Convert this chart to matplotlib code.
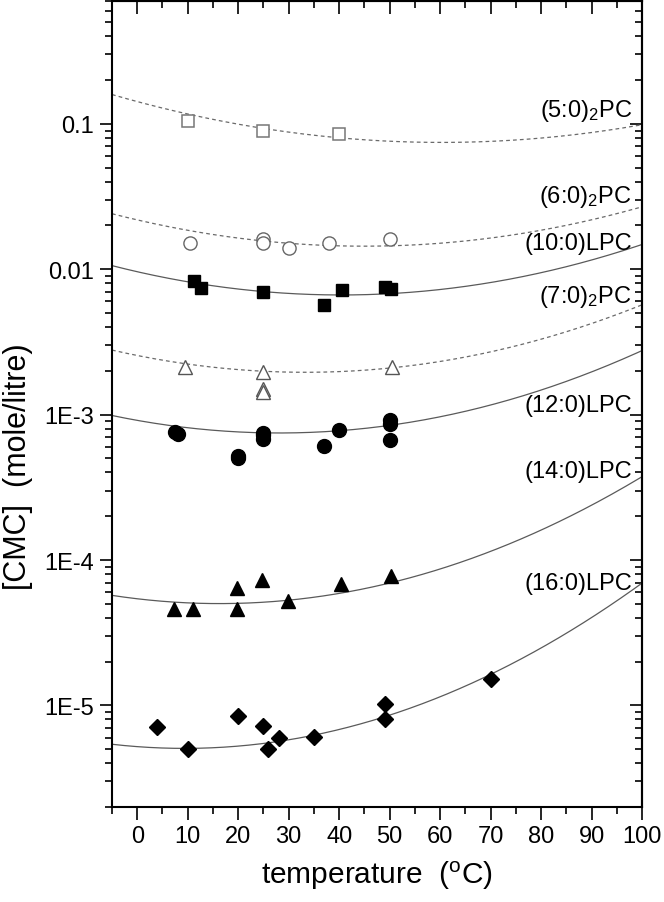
import numpy as np
import matplotlib
matplotlib.use("Agg")
import matplotlib.pyplot as plt
from matplotlib.ticker import FixedLocator, FixedFormatter, LogLocator, MultipleLocator, NullFormatter

plt.rcParams['font.family'] = ['Liberation Sans', 'DejaVu Sans']
plt.rcParams['mathtext.default'] = 'regular'

# measured CMC values (temperature in degC, CMC in mole/litre)
t_5 = [10, 25, 40]
cmc_5 = [0.104, 0.090, 0.085]
t_6 = [10.5, 25, 25, 30, 38, 50]
cmc_6 = [0.0151, 0.0162, 0.0151, 0.0140, 0.0151, 0.0162]
t_7 = [9.5, 25, 25, 25, 50.5]
cmc_7 = [0.00214, 0.00195, 0.00150, 0.00144, 0.00214]
t_10 = [11.3, 12.7, 25, 37, 40.5, 49, 50.2]
cmc_10 = [0.0083, 0.0074, 0.0070, 0.0057, 0.0072, 0.0075, 0.0073]
t_12 = [7.5, 8, 20, 20, 25, 25, 25, 37, 40, 50, 50, 50]
cmc_12 = [0.00076, 0.00074, 0.00052, 0.00050, 0.00075, 0.00072, 0.00068,
          0.00061, 0.00079, 0.00092, 0.00086, 0.00067]
t_14 = [7.2, 11.1, 19.8, 19.8, 24.8, 29.9, 40.4, 50.3]
cmc_14 = [4.6e-5, 4.6e-5, 6.4e-5, 4.6e-5, 7.3e-5, 5.2e-5, 6.8e-5, 7.8e-5]
t_16 = [4, 10, 20, 25, 26, 28, 35, 49, 49, 70]
cmc_16 = [7.1e-6, 5.0e-6, 8.5e-6, 7.2e-6, 5.0e-6, 6.0e-6, 6.1e-6, 1.03e-5, 8.1e-6, 1.53e-5]

# points
curve_t_5 = [-5, 25, 55, 100]
curve_5 = [0.161, 0.090, 0.077, 0.098]
curve_t_6 = [-5, 30, 42, 62, 100]
curve_6 = [0.0243, 0.0146, 0.0146, 0.0156, 0.0267]
curve_t_7 = [-5, 25, 62, 100]
curve_7 = [0.00283, 0.0019, 0.00248, 0.00562]
curve_t_10 = [-5, 20, 42, 100]
curve_10 = [0.0107, 0.0071, 0.0068, 0.01476]
curve_t_12 = [-5, 25, 62, 100]
curve_12 = [0.001, 0.000724, 0.00103, 0.00273]
curve_t_14 = [-5, 16, 50, 70, 100]
curve_14 = [5.97e-5, 4.62e-5, 7.1e-5, 1.19e-4, 3.66e-4]
curve_t_16 = [-5, 16, 35, 49, 70, 100]
curve_16 = [5.63e-6, 4.77e-6, 6.15e-6, 8.67e-6, 1.68e-5, 6.8e-5]

labels = [r'(5:0)$_{2}$PC', r'(6:0)$_{2}$PC', '(10:0)LPC', r'(7:0)$_{2}$PC',
          '(12:0)LPC', '(14:0)LPC', '(16:0)LPC']
label_y = [0.114, 0.0291, 0.0137, 0.00597, 0.00106, 0.000371, 6.3e-5]

fig = plt.figure(figsize=(6.64, 9.03), dpi=100)
ax = fig.add_axes([112 / 664, 1 - 808 / 903, 530 / 664, 806 / 903])
ax.set_yscale('log')
ax.set_xlim(-5, 100)
ax.set_ylim(2e-6, 0.7)

tt = np.linspace(-5, 100, 300)


def smooth(tc, yc):
    # quadratic through the traced curve points (log scale)
    p = np.polyfit(tc, np.log10(yc), 2)
    return 10 ** np.polyval(p, tt)


dash = dict(color='#6a6a6a', lw=0.9, ls=(0, (3, 2.5)))
solid = dict(color='#5a5a5a', lw=0.9, ls='-')
ax.plot(tt, smooth(curve_t_5, curve_5), **dash)
ax.plot(tt, smooth(curve_t_6, curve_6), **dash)
ax.plot(tt, smooth(curve_t_7, curve_7), **dash)
ax.plot(tt, smooth(curve_t_10, curve_10), **solid)
ax.plot(tt, smooth(curve_t_12, curve_12), **solid)
ax.plot(tt, smooth(curve_t_14, curve_14), **solid)
ax.plot(tt, smooth(curve_t_16, curve_16), **solid)

ax.plot(t_5, cmc_5, 's', ms=8, mfc='white', mec='#777777', mew=1.1, ls='none')
ax.plot(t_6, cmc_6, 'o', ms=9.5, mfc='white', mec='#666666', mew=1.0, ls='none')
ax.plot(t_7, cmc_7, '^', ms=10.5, mfc='white', mec='#555555', mew=1.0, ls='none')
ax.plot(t_10, cmc_10, 's', ms=8, color='black', ls='none')
ax.plot(t_12, cmc_12, 'o', ms=10, color='black', ls='none')
ax.plot(t_14, cmc_14, '^', ms=10.5, color='black', ls='none')
ax.plot(t_16, cmc_16, 'D', ms=8, color='black', ls='none')

for lab, yv in zip(labels, label_y):
    ax.text(98, yv, lab, ha='right', va='baseline', fontsize=17)

# ticks
ax.xaxis.set_major_locator(MultipleLocator(10))
ax.xaxis.set_minor_locator(MultipleLocator(5))
ax.set_xticks(range(0, 101, 10))
ax.yaxis.set_major_locator(FixedLocator([1e-5, 1e-4, 1e-3, 1e-2, 1e-1]))
ax.yaxis.set_major_formatter(FixedFormatter(['1E-5', '1E-4', '1E-3', '0.01', '0.1']))
ax.yaxis.set_minor_locator(LogLocator(base=10, subs=np.arange(2, 10), numticks=20))
ax.yaxis.set_minor_formatter(NullFormatter())
ax.tick_params(which='both', direction='out', top=False, right=False, width=1.2,
               labelsize=17)
ax.tick_params(which='major', length=9, pad=4)
ax.tick_params(which='minor', length=5)

top = ax.secondary_xaxis('top')
top.xaxis.set_major_locator(MultipleLocator(10))
top.xaxis.set_minor_locator(MultipleLocator(5))
top.tick_params(which='both', direction='in', labeltop=False, width=1.2)
top.tick_params(which='major', length=9)
top.tick_params(which='minor', length=5)

right = ax.secondary_yaxis('right')
right.yaxis.set_major_locator(FixedLocator([1e-5, 1e-4, 1e-3, 1e-2, 1e-1]))
right.yaxis.set_minor_locator(LogLocator(base=10, subs=np.arange(2, 10), numticks=20))
right.yaxis.set_minor_formatter(NullFormatter())
right.tick_params(which='both', direction='in', labelright=False, width=1.2)
right.tick_params(which='major', length=9)
right.tick_params(which='minor', length=5)

for sp in list(ax.spines.values()) + [top.spines['top'], right.spines['right']]:
    sp.set_linewidth(1.5)

ax.set_xlabel(r'temperature  ($^{o}$C)', fontsize=21.5, labelpad=8)
fig.text(0.027, 1 - 467 / 903, '[CMC]  (mole/litre)', rotation=90, ha='center',
         va='center', fontsize=22)

fig.savefig('out.png', dpi=100)
